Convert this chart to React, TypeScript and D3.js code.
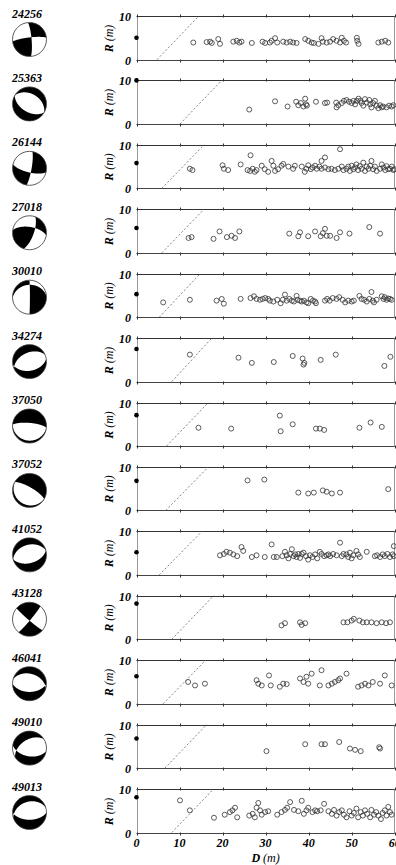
import * as d3 from 'd3';
import React, { useEffect } from 'react';

// event ids, source depth dot (R at D=0), dashed line ends, focal mechanisms
const ids = ['24256', '25363', '26144', '27018', '30010', '34274', '37050', '37052', '41052', '43128', '46041', '49010', '49013'];
const sourceR = [5.0, 10, 5.8, 5.7, 5.3, 7.5, 7.1, 6.8, 5.2, 8.2, 6.3, 6.8, 8.1];
const dashFrom = [4.8, 10.1, 5.9, 5.9, 5.3, 8.2, 7.0, 6.8, 5.3, 8.2, 6.2, 6.6, 8.2];
const dashTo = [14.5, 19.8, 15.7, 15.7, 14.8, 17.5, 16.7, 16.7, 15.2, 17.9, 16.1, 16.3, 17.9];
const strikes = [355, 120, 10, 20, 0, 80, 275, 300, 75, 40, 90, 100, 90];
const dips = [80, 50, 80, 70, 88, 45, 75, 75, 50, 85, 50, 50, 55];
const rakes = [10, -90, -20, 30, -118, -80, -90, -90, -90, 175, -100, -60, -80];

const xTicks = [0, 10, 20, 30, 40, 50, 60];

// observed points [D (m), R (m)]
const p24256 = [[13.2,3.9],[16.3,4.0],[17.1,4.1],[17.5,3.8],[19.0,4.7],[19.4,3.6],[22.5,4.1],[23.3,4.3],[23.9,3.9],[24.4,4.1],[26.8,3.8],[29.3,4.1],[29.9,3.8],[31.0,3.9],[31.4,4.3],[32.2,4.9],[32.7,3.9],[34.1,4.1],[34.9,3.9],[35.7,4.1],[36.4,3.9],[37.2,3.8],[39.2,4.7],[39.9,4.3],[40.7,3.9],[41.2,3.8],[42.3,3.6],[43.0,4.9],[43.3,4.1],[44.2,3.9],[45.0,4.1],[45.7,4.7],[46.5,4.3],[47.3,3.9],[47.7,5.0],[48.2,4.3],[48.7,3.9],[51.2,5.0],[51.3,4.3],[51.6,3.6],[56.2,3.9],[57.0,4.1],[57.8,4.3],[58.5,3.9]];
const p25363 = [[26.2,3.3],[32.2,5.2],[35.1,4.0],[37.1,5.1],[37.6,4.3],[38.2,4.8],[38.8,4.0],[39.2,5.8],[39.4,4.5],[39.6,4.2],[41.7,5.1],[43.8,4.8],[44.3,4.9],[46.4,4.9],[46.5,3.8],[46.9,4.3],[47.7,4.8],[48.2,5.3],[48.8,5.5],[49.4,5.1],[50.0,4.8],[50.4,5.3],[50.8,4.5],[51.2,5.3],[51.6,5.8],[52.0,5.3],[52.3,4.8],[52.7,4.2],[53.1,5.7],[53.5,4.9],[54.1,5.5],[54.3,4.5],[54.6,3.8],[55.0,4.8],[55.4,5.3],[55.8,4.2],[56.2,3.6],[56.6,4.3],[57.0,3.8],[57.3,4.0],[58.1,3.8],[58.7,4.2],[59.3,4.0],[59.7,4.3]];
const p26144 = [[12.4,4.5],[13.0,4.2],[20.0,5.3],[20.3,4.5],[21.3,4.2],[24.2,5.5],[26.5,7.6],[25.8,4.2],[26.4,4.0],[27.0,4.5],[27.5,3.8],[27.9,4.2],[29.1,5.2],[29.8,4.4],[30.6,3.8],[31.4,6.3],[31.8,5.2],[32.2,4.0],[32.9,4.4],[33.7,5.2],[34.1,5.6],[35.3,5.0],[36.4,4.5],[36.8,5.2],[38.4,5.0],[39.1,3.8],[39.5,4.5],[39.9,5.3],[40.5,4.4],[40.9,4.8],[41.5,5.2],[41.9,4.5],[42.5,5.0],[43.0,4.5],[43.8,4.8],[44.6,4.4],[45.3,4.5],[46.1,4.2],[46.9,4.5],[47.7,5.0],[48.1,4.2],[43.8,7.1],[43.0,6.3],[47.3,9.0],[48.8,4.5],[49.2,5.0],[49.6,4.0],[50.0,5.2],[50.4,4.4],[50.8,4.8],[51.1,5.5],[51.5,4.2],[51.9,5.1],[52.3,4.5],[52.7,5.9],[53.1,4.0],[53.5,5.0],[53.9,4.5],[54.3,5.2],[54.6,6.3],[55.0,4.4],[55.4,5.0],[55.8,4.0],[56.6,4.5],[57.0,5.5],[57.4,4.8],[57.8,4.2],[58.1,5.1],[58.5,4.4],[58.9,4.5],[59.3,5.0],[59.7,4.2],[59.9,4.4]];
const p27018 = [[12.1,3.4],[12.8,3.6],[17.9,3.2],[19.3,4.9],[21.0,3.6],[22.1,3.9],[22.9,3.4],[23.9,4.9],[35.5,4.4],[37.6,3.8],[38.0,4.7],[39.9,3.8],[41.5,4.9],[42.8,3.8],[43.3,4.5],[43.8,5.5],[44.2,3.9],[45.0,3.9],[46.5,3.4],[47.3,4.7],[49.5,4.4],[54.1,5.9],[56.6,4.4]];
const p30010 = [[6.2,3.4],[12.4,4.0],[18.6,3.8],[19.8,4.2],[20.3,3.1],[24.2,4.2],[26.5,4.4],[27.3,4.8],[27.9,4.2],[28.7,4.0],[29.3,4.2],[29.9,4.4],[30.6,4.2],[31.0,3.8],[31.8,3.6],[32.7,4.0],[33.5,3.2],[34.0,4.0],[34.5,5.2],[34.9,3.8],[35.5,4.2],[36.1,3.8],[36.6,3.6],[37.2,4.9],[37.4,4.0],[38.0,3.8],[38.4,3.6],[38.9,3.8],[39.5,3.4],[39.9,3.2],[40.5,4.2],[41.0,3.8],[41.5,3.6],[41.7,3.2],[43.8,3.8],[44.3,4.2],[44.9,3.8],[45.6,4.4],[46.5,4.2],[47.1,4.6],[47.9,4.0],[48.5,3.4],[49.2,3.8],[50.0,3.6],[50.5,3.8],[51.8,4.9],[52.3,4.2],[52.9,4.0],[53.5,3.6],[54.1,4.2],[54.6,5.8],[54.9,3.8],[55.2,3.4],[55.8,4.0],[57.0,4.8],[57.4,4.2],[57.7,4.6],[58.1,4.0],[58.5,4.3],[58.9,4.2],[59.3,4.0]];
const p34274 = [[12.4,6.2],[23.7,5.5],[26.8,4.3],[31.9,4.5],[36.3,5.9],[38.6,5.3],[39.0,4.3],[38.8,3.9],[42.8,5.0],[46.3,6.2],[57.6,3.6],[59.0,5.7]];
const p37050 = [[14.4,4.2],[22.0,4.0],[33.3,7.0],[33.5,3.4],[36.3,5.0],[41.7,4.0],[42.6,4.0],[43.6,3.7],[51.8,4.2],[54.4,5.4],[57.0,4.4]];
const p37052 = [[25.8,6.9],[29.7,7.1],[37.6,4.1],[39.9,3.9],[41.2,4.1],[43.3,4.6],[44.2,4.3],[45.4,3.9],[47.3,4.1],[58.5,4.9]];
const p41052 = [[19.4,4.5],[20.3,4.8],[20.9,5.3],[21.7,5.1],[22.5,4.7],[23.4,4.3],[24.4,6.4],[24.8,5.5],[26.8,4.1],[27.9,4.5],[29.8,4.1],[31.4,7.0],[31.9,4.1],[32.6,4.1],[33.9,4.3],[34.5,5.3],[34.9,4.5],[35.3,3.8],[35.7,4.8],[36.1,5.9],[36.5,4.3],[36.9,4.7],[37.2,4.1],[37.6,4.8],[38.0,3.9],[38.4,4.8],[38.8,5.1],[39.4,4.3],[39.9,3.5],[40.3,4.5],[40.9,4.1],[41.5,4.7],[42.0,3.8],[42.6,5.3],[43.0,4.8],[43.6,4.3],[44.2,4.5],[44.6,4.7],[45.0,4.3],[45.7,4.8],[46.5,4.5],[47.3,7.4],[47.7,4.3],[48.1,4.8],[48.8,4.7],[49.2,4.1],[49.6,5.1],[50.0,3.8],[50.4,4.5],[51.1,5.5],[51.5,4.7],[51.9,4.1],[53.5,5.3],[55.4,4.3],[55.9,4.5],[56.6,4.1],[57.2,4.7],[57.7,4.3],[58.3,4.8],[58.9,4.1],[59.5,4.7],[59.8,6.6],[59.8,4.3]];
const p43128 = [[33.7,3.2],[34.5,3.7],[38.0,3.9],[38.4,3.3],[39.2,3.7],[48.1,3.9],[49.0,3.9],[50.0,4.3],[50.5,4.7],[51.8,4.3],[52.6,3.9],[53.5,3.9],[54.6,3.9],[55.8,3.7],[57.0,3.9],[58.0,3.7],[58.9,3.9]];
const p46041 = [[12.0,5.0],[13.6,4.2],[15.9,4.6],[27.9,5.4],[28.3,4.6],[29.1,4.2],[30.8,6.5],[31.2,4.2],[33.3,3.9],[34.1,4.6],[34.9,4.5],[38.0,5.8],[38.8,5.0],[39.5,6.2],[39.9,4.6],[40.7,6.9],[43.0,7.7],[42.6,4.2],[44.6,4.2],[45.4,4.6],[46.1,5.0],[46.9,5.4],[47.3,5.8],[48.8,6.9],[51.5,3.9],[52.3,4.2],[53.1,4.6],[53.9,4.2],[54.9,5.0],[56.6,4.6],[57.7,6.5],[59.3,4.2]];
const p49010 = [[30.2,3.9],[39.2,5.5],[43.0,5.5],[43.8,5.5],[47.1,6.0],[49.6,4.5],[50.8,4.2],[52.1,3.9],[56.4,4.8],[56.6,4.5]];
const p49013 = [[10.1,7.4],[12.4,5.1],[18.0,3.4],[20.5,4.1],[21.7,4.7],[22.3,5.1],[22.9,5.7],[23.4,3.5],[26.2,3.9],[27.0,4.3],[27.5,3.5],[27.9,5.7],[28.3,6.8],[28.7,5.1],[29.1,4.1],[29.9,4.7],[30.6,4.9],[32.7,4.1],[33.7,4.7],[34.5,5.2],[35.0,5.7],[35.7,7.0],[36.6,5.2],[37.6,4.9],[38.4,7.3],[38.9,4.3],[39.5,5.1],[39.9,5.7],[40.9,4.7],[41.5,5.1],[42.0,4.9],[42.8,5.1],[43.6,6.6],[44.6,4.9],[45.4,4.3],[45.9,5.2],[46.5,3.9],[47.1,4.7],[47.7,5.1],[48.2,4.1],[48.8,3.5],[49.5,4.9],[50.0,3.9],[50.5,4.5],[51.1,5.5],[51.5,3.5],[52.1,4.7],[52.6,3.9],[53.1,5.1],[53.6,4.3],[54.3,3.5],[54.6,5.2],[55.2,4.1],[55.7,4.7],[56.2,3.9],[56.8,3.1],[57.2,4.5],[57.7,5.1],[58.1,3.9],[58.5,5.9],[58.9,4.7],[59.3,4.1]];

const points = [p24256, p25363, p26144, p27018, p30010, p34274, p37050, p37052, p41052, p43128, p46041, p49010, p49013];

const W = 396, H = 865;
const PH = 43.5;
const panelTop = (k: number) => 16 + k * 64.42;
const x = d3.scaleLinear().domain([0, 60]).range([136.5, 394.7]);
const serif = '"Liberation Serif", "DejaVu Serif", serif';
const crisp = (v: number) => Math.round(v) + 0.5;

// P-wave polarity on lower hemisphere (equal area), >0 = compression (black)
function polarity(strike: number, dip: number, rake: number, X: number, Y: number) {
  const r = Math.PI / 180;
  const f = strike * r, dl = dip * r, l = rake * r;
  const n = [-Math.sin(dl) * Math.sin(f), Math.sin(dl) * Math.cos(f), -Math.cos(dl)];
  const s = [
    Math.cos(l) * Math.cos(f) + Math.cos(dl) * Math.sin(l) * Math.sin(f),
    Math.cos(l) * Math.sin(f) - Math.cos(dl) * Math.sin(l) * Math.cos(f),
    -Math.sin(l) * Math.sin(dl),
  ];
  const rho = Math.min(1, Math.hypot(X, Y));
  const inc = 2 * Math.asin(rho / Math.SQRT2);
  const az = Math.atan2(X, Y);
  const v = [Math.sin(inc) * Math.cos(az), Math.sin(inc) * Math.sin(az), Math.cos(inc)];
  const dn = n[0] * v[0] + n[1] * v[1] + n[2] * v[2];
  const ds = s[0] * v[0] + s[1] * v[1] + s[2] * v[2];
  return dn * ds;
}

const GRID = 80;
function ballPath(k: number) {
  const vals: number[] = [];
  for (let j = 0; j < GRID; j++) {
    for (let i = 0; i < GRID; i++) {
      const X = ((i + 0.5) / GRID) * 2 - 1;
      const Y = 1 - ((j + 0.5) / GRID) * 2;
      vals.push(polarity(strikes[k], dips[k], rakes[k], X, Y));
    }
  }
  const c = d3.contours().size([GRID, GRID]).thresholds([0])(vals)[0];
  return d3.geoPath()(c as any) || '';
}

function BeachBall({ k, cx, cy, r }: { k: number; cx: number; cy: number; r: number }) {
  const s = (2 * r) / GRID;
  return (
    <g>
      <clipPath id={'bb' + k}>
        <circle cx={cx} cy={cy} r={r} />
      </clipPath>
      <circle cx={cx} cy={cy} r={r} fill="#fff" />
      <g clipPath={`url(#bb${k})`}>
        <path d={ballPath(k)} fill="#000" transform={`translate(${cx - r},${cy - r}) scale(${s})`} />
      </g>
      <circle cx={cx} cy={cy} r={r} fill="none" stroke="#333" strokeWidth={0.8} />
    </g>
  );
}

function Panel({ k }: { k: number }) {
  const top = panelTop(k);
  const y = d3.scaleLinear().domain([0, 10]).range([top + PH, top]);
  const yT = crisp(y(10)), yB = crisp(y(0));
  const x0 = x(0), x1 = x(60);
  return (
    <g>
      <text x={12} y={top + 1.5} fontFamily={serif} fontStyle="italic" fontWeight="bold" fontSize={12}>{ids[k]}</text>
      <BeachBall k={k} cx={29.5} cy={top + 23.5} r={17} />
      <text transform={`translate(113,${(yT + yB) / 2}) rotate(-90)`} textAnchor="middle" fontFamily={serif} fontStyle="italic" fontSize={12}>
        <tspan fontWeight="bold">R</tspan> (m)
      </text>
      <text x={131} y={yT} dy="0.35em" textAnchor="end" fontFamily={serif} fontStyle="italic" fontWeight="bold" fontSize={12}>10</text>
      <text x={131} y={yB} dy="0.35em" textAnchor="end" fontFamily={serif} fontStyle="italic" fontWeight="bold" fontSize={12}>0</text>
      <line x1={crisp(x0)} x2={crisp(x0)} y1={yT} y2={yB} stroke="#999" />
      <line x1={crisp(x1) - 1} x2={crisp(x1) - 1} y1={yT} y2={yB} stroke="#999" />
      <line x1={x0} x2={x1} y1={yT} y2={yT} stroke="#333" />
      <line x1={x0} x2={x1} y1={yB} y2={yB} stroke="#444" />
      {xTicks.map(t => (
        <g key={t}>
          <line x1={crisp(x(t))} x2={crisp(x(t))} y1={yT - 2} y2={yT + 1} stroke="#333" />
          <line x1={crisp(x(t))} x2={crisp(x(t))} y1={yB - 1} y2={yB + 2} stroke="#333" />
        </g>
      ))}
      <line x1={x(dashFrom[k])} y1={y(0)} x2={x(dashTo[k])} y2={y(10)} stroke="#666" strokeWidth={0.8} strokeDasharray="2,2" />
      {points[k].map((p, i) => (
        <circle key={i} cx={x(p[0])} cy={y(p[1])} r={2.5} fill="none" stroke="#333" strokeWidth={0.8} />
      ))}
      <circle cx={x(0)} cy={y(sourceR[k])} r={2.3} fill="#000" />
    </g>
  );
}

export default function App() {
  useEffect(() => {
    document.body.style.margin = '0';
  }, []);
  const lastBottom = panelTop(ids.length - 1) + PH;
  return (
    <svg width={W} height={H} style={{ display: 'block', background: '#fff' }}>
      {ids.map((_, k) => <Panel key={k} k={k} />)}
      {xTicks.map(t => (
        <text key={t} x={x(t)} y={lastBottom + 14} textAnchor="middle" fontFamily={serif} fontStyle="italic" fontWeight="bold" fontSize={12}>{t}</text>
      ))}
      <text x={(x(0) + x(60)) / 2} y={lastBottom + 29} textAnchor="middle" fontFamily={serif} fontStyle="italic" fontSize={12}>
        <tspan fontWeight="bold">D</tspan> (m)
      </text>
    </svg>
  );
}
